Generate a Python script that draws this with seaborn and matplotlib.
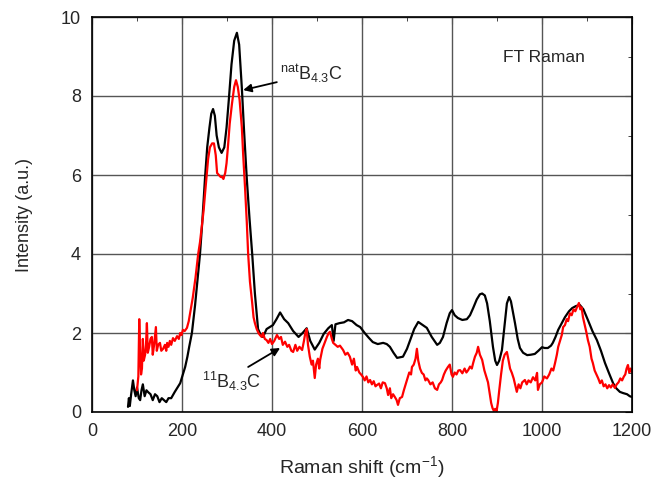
import matplotlib
matplotlib.use('Agg')
import matplotlib.pyplot as plt
import numpy as np
import pandas as pd
import seaborn as sns
from matplotlib.ticker import MultipleLocator

# natB4.3C spectrum (black)
nat_shift = [80, 82, 84, 87, 91, 94, 97, 100, 104, 107, 110, 113, 117, 121, 125, 130, 135, 140, 145,
             150, 155, 160, 165, 170, 176, 184, 190, 196, 202, 207, 212, 216, 222, 229, 234, 240, 245,
             251, 256, 261, 265, 269, 273, 277, 282, 288, 294, 299, 304, 310, 316, 322, 327, 333, 338,
             344, 350, 356, 362, 369, 375, 380, 388, 395, 402, 410, 418, 427, 436, 447, 459, 468, 477,
             485, 495, 505, 515, 525, 533, 537, 541, 550, 560, 569, 578, 588, 596, 606, 615, 624, 635,
             647, 655, 662, 670, 678, 691, 700, 707, 716, 725, 735, 744, 755, 767, 773, 780, 788, 795,
             800, 806, 813, 823, 833, 840, 847, 855, 862, 867, 873, 878, 884, 891, 896, 900, 905, 911,
             917, 922, 927, 931, 936, 940, 946, 951, 958, 967, 975, 984, 992, 1000, 1006, 1013, 1020,
             1024, 1030, 1036, 1044, 1051, 1060, 1067, 1075, 1084, 1092, 1102, 1112, 1122, 1131, 1140,
             1149, 1158, 1165, 1173, 1180, 1189, 1195, 1200]
nat_int = [0.13, 0.35, 0.15, 0.45, 0.8, 0.55, 0.4, 0.62, 0.35, 0.3, 0.55, 0.7, 0.4, 0.55, 0.5, 0.45,
           0.3, 0.45, 0.4, 0.25, 0.35, 0.3, 0.25, 0.35, 0.35, 0.51, 0.62, 0.73, 0.95, 1.14, 1.4, 1.65,
           2.0, 2.7, 3.3, 4.0, 4.8, 5.9, 6.7, 7.2, 7.55, 7.67, 7.5, 7.0, 6.7, 6.56, 6.7, 7.2, 7.9, 8.8,
           9.4, 9.6, 9.3, 8.2, 7.1, 5.9, 4.9, 4.0, 3.0, 2.1, 1.95, 1.9, 2.1, 2.15, 2.2, 2.35, 2.52,
           2.35, 2.25, 2.05, 1.9, 2.0, 2.12, 1.8, 1.58, 1.75, 1.98, 2.12, 2.2, 1.8, 2.22, 2.25, 2.27,
           2.33, 2.3, 2.2, 2.15, 2.0, 1.88, 1.77, 1.72, 1.75, 1.72, 1.65, 1.5, 1.37, 1.4, 1.6, 1.82,
           2.1, 2.28, 2.2, 2.13, 1.9, 1.7, 1.75, 1.9, 2.25, 2.5, 2.58, 2.45, 2.38, 2.33, 2.35, 2.45,
           2.63, 2.85, 2.98, 3.0, 2.95, 2.75, 2.3, 1.65, 1.3, 1.19, 1.3, 1.57, 2.2, 2.75, 2.91, 2.8,
           2.5, 2.25, 1.85, 1.62, 1.5, 1.44, 1.45, 1.47, 1.55, 1.64, 1.62, 1.62, 1.68, 1.75, 1.9,
           2.08, 2.25, 2.4, 2.55, 2.63, 2.68, 2.71, 2.6, 2.33, 2.05, 1.82, 1.55, 1.24, 0.98, 0.73,
           0.6, 0.51, 0.48, 0.45, 0.4, 0.38]

# 11B4.3C spectrum (red)
b11_shift = [100, 103, 105, 107, 109, 111, 113, 115, 118, 120, 122, 124, 127, 130, 133, 135, 138, 142,
             144, 147, 151, 154, 158, 162, 165, 167, 170, 173, 176, 180, 184, 189, 193, 196, 199, 202,
             206, 211, 215, 218, 224, 230, 236, 240, 244, 248, 251, 255, 258, 262, 267, 271, 275, 278,
             282, 286, 289, 292, 296, 299, 302, 306, 311, 316, 320, 324, 328, 333, 336, 340, 344, 347,
             351, 356, 359, 362, 366, 370, 373, 377, 380, 384, 388, 392, 396, 400, 405, 411, 416, 420,
             424, 429, 434, 438, 443, 447, 452, 456, 461, 467, 471, 474, 477, 480, 484, 488, 491, 495,
             498, 502, 505, 507, 512, 517, 522, 526, 529, 533, 536, 541, 546, 551, 558, 563, 568, 573,
             578, 582, 586, 589, 594, 598, 602, 606, 610, 614, 618, 622, 626, 630, 633, 638, 642, 646,
             651, 655, 658, 662, 665, 669, 673, 677, 680, 684, 689, 693, 697, 700, 705, 709, 711, 715,
             719, 722, 725, 729, 733, 737, 741, 744, 747, 752, 757, 762, 767, 771, 775, 778, 782, 786,
             791, 795, 799, 802, 806, 810, 814, 818, 823, 828, 832, 836, 840, 844, 847, 851, 855, 858,
             862, 867, 872, 876, 880, 884, 887, 890, 893, 896, 899, 902, 905, 909, 913, 917, 922, 925,
             929, 933, 937, 940, 944, 948, 952, 956, 962, 966, 970, 975, 980, 985, 989, 991, 995, 1000,
             1005, 1011, 1016, 1021, 1025, 1029, 1033, 1036, 1040, 1044, 1047, 1051, 1055, 1058, 1062,
             1066, 1070, 1074, 1078, 1082, 1085, 1088, 1091, 1095, 1098, 1102, 1106, 1110, 1113, 1117,
             1121, 1125, 1129, 1133, 1137, 1141, 1145, 1149, 1153, 1157, 1162, 1166, 1170, 1174, 1178,
             1182, 1185, 1188, 1191, 1194, 1197, 1200]
b11_int = [0.55, 0.9, 2.35, 1.5, 0.95, 1.1, 1.85, 1.3, 1.45, 1.7, 2.25, 1.5, 1.65, 1.85, 1.9, 1.45,
           1.7, 2.15, 1.55, 1.7, 1.75, 1.55, 1.6, 1.7, 1.55, 1.75, 1.65, 1.8, 1.7, 1.87, 1.8, 1.92,
           1.85, 2.0, 1.95, 2.08, 2.05, 2.13, 2.3, 2.5, 2.9, 3.4, 4.0, 4.3, 4.7, 5.1, 5.5, 6.0, 6.4,
           6.7, 6.8, 6.8, 6.5, 6.05, 6.0, 5.95, 5.95, 5.9, 6.05, 6.3, 6.7, 7.3, 7.8, 8.23, 8.4, 8.23,
           7.9, 7.2, 6.5, 5.7, 4.8, 4.0, 3.3, 2.76, 2.4, 2.25, 2.1, 2.0, 1.95, 1.9, 2.0, 1.85, 1.82,
           1.75, 1.85, 1.72, 1.8, 1.95, 1.85, 1.9, 1.7, 1.78, 1.65, 1.7, 1.55, 1.52, 1.7, 1.55, 1.65,
           1.57, 1.8, 2.0, 2.1, 1.7, 1.4, 1.2, 1.3, 0.86, 1.2, 1.35, 1.1, 1.32, 1.6, 1.75, 1.9, 2.0,
           2.03, 1.85, 1.75, 1.7, 1.65, 1.68, 1.57, 1.45, 1.5, 1.4, 1.2, 1.35, 1.05, 1.14, 1.0, 0.95,
           0.89, 0.8, 0.9, 0.75, 0.81, 0.7, 0.78, 0.65, 0.68, 0.72, 0.6, 0.75, 0.73, 0.6, 0.43, 0.6,
           0.35, 0.45, 0.38, 0.3, 0.18, 0.35, 0.38, 0.55, 0.7, 0.81, 1.0, 0.95, 1.14, 1.2, 1.35, 1.6,
           1.3, 1.1, 0.99, 0.95, 0.8, 0.85, 0.81, 0.7, 0.75, 0.6, 0.56, 0.7, 0.75, 0.81, 0.95, 1.05,
           1.14, 1.2, 0.95, 0.89, 1.0, 0.95, 1.05, 1.06, 0.98, 1.1, 1.0, 1.06, 1.15, 1.1, 1.24, 1.4,
           1.5, 1.65, 1.45, 1.32, 1.05, 0.9, 0.75, 0.45, 0.23, 0.1, 0.03, 0.08, 0.02, 0.23, 0.55,
           0.95, 1.3, 1.45, 1.52, 1.35, 1.1, 0.99, 0.85, 0.7, 0.51, 0.7, 0.6, 0.75, 0.81, 0.7, 0.8,
           0.75, 0.88, 0.8, 0.99, 0.56, 0.7, 0.75, 0.9, 0.85, 0.95, 1.1, 1.05, 1.24, 1.45, 1.65, 1.8,
           1.95, 2.15, 2.2, 2.35, 2.3, 2.5, 2.45, 2.6, 2.55, 2.66, 2.76, 2.6, 2.65, 2.4, 2.2, 2.05,
           1.82, 1.65, 1.35, 1.24, 1.05, 0.95, 0.85, 0.73, 0.8, 0.65, 0.7, 0.6, 0.68, 0.62, 0.7, 0.61,
           0.7, 0.75, 0.85, 0.8, 0.9, 0.95, 1.1, 1.19, 1.0, 1.1, 1.01]

x_ticks = [0, 200, 400, 600, 800, 1000, 1200]
y_ticks = [0, 2, 4, 6, 8, 10]

sns.set_style('white')
plt.rcParams['font.family'] = ['Liberation Sans', 'DejaVu Sans']
plt.rcParams['mathtext.fontset'] = 'custom'
plt.rcParams['mathtext.rm'] = 'Liberation Sans'
plt.rcParams['mathtext.it'] = 'Liberation Sans'

nat_df = pd.DataFrame({'shift': nat_shift, 'intensity': nat_int})
b11_df = pd.DataFrame({'shift': b11_shift, 'intensity': b11_int})

fig = plt.figure(figsize=(6.69, 4.84), dpi=100)
ax = fig.add_axes([92 / 669, 1 - 412 / 484, 540 / 669, 395 / 484])

sns.lineplot(data=nat_df, x='shift', y='intensity', color='black', linewidth=1.6,
             estimator=None, ax=ax)
sns.lineplot(data=b11_df, x='shift', y='intensity', color='#ff0000', linewidth=1.6,
             estimator=None, ax=ax)

ax.set_xlim(0, 1200)
ax.set_ylim(0, 10)
ax.set_xticks(x_ticks)
ax.set_yticks(y_ticks)
ax.xaxis.set_minor_locator(MultipleLocator(100))
ax.yaxis.set_minor_locator(MultipleLocator(1))
ax.grid(True, which='major', color='#555555', linewidth=1.0)
ax.tick_params(which='major', direction='out', length=5, width=1.0, labelsize=13, color='black', pad=3)
ax.tick_params(which='minor', direction='out', length=3, width=1.0, color='black')
for sp in ax.spines.values():
    sp.set_color('black')
    sp.set_linewidth(1.2)

# mirrored ticks on top and right, pointing inward
top = ax.secondary_xaxis('top')
top.set_xticks(x_ticks)
top.xaxis.set_minor_locator(MultipleLocator(100))
top.tick_params(which='major', direction='in', length=5, labeltop=False)
top.tick_params(which='minor', direction='in', length=3)
right = ax.secondary_yaxis('right')
right.set_yticks(y_ticks)
right.yaxis.set_minor_locator(MultipleLocator(1))
right.tick_params(which='major', direction='in', length=5, labelright=False)
right.tick_params(which='minor', direction='in', length=3)

ax.set_xlabel('Raman shift (cm$^{\\mathrm{-1}}$)', fontsize=14, labelpad=10)
ax.set_ylabel('Intensity (a.u.)', fontsize=13, labelpad=20)

ax.text(913, 8.85, 'FT Raman', fontsize=12.5, ha='left', va='baseline')
ax.annotate(r'$^{\mathrm{nat}}\mathrm{B}_{4.3}\mathrm{C}$', xy=(336, 8.15), xytext=(418, 8.4),
            fontsize=13, ha='left', va='baseline',
            arrowprops=dict(arrowstyle='-|>', color='black', lw=1.3, shrinkA=0, shrinkB=0,
                            mutation_scale=12))
ax.annotate('', xy=(418, 1.62), xytext=(347, 1.14),
            arrowprops=dict(arrowstyle='-|>', color='black', lw=1.3, shrinkA=0, shrinkB=0,
                            mutation_scale=12))
ax.text(244, 0.6, r'$^{11}\mathrm{B}_{4.3}\mathrm{C}$', fontsize=13, ha='left', va='baseline')

fig.savefig('out.png', dpi=100)
